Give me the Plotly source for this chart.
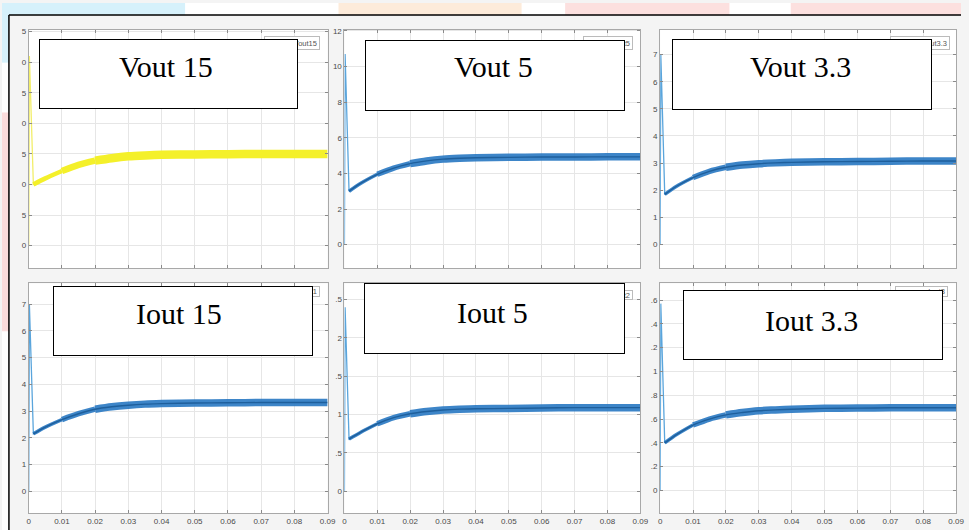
import plotly.graph_objects as go

# ---------------- data ----------------
t = [0, 0.0002, 0.0014, 0.005, 0.01, 0.015, 0.02, 0.025, 0.03, 0.035,
     0.04, 0.05, 0.06, 0.07, 0.08, 0.09]

vout15 = [0, 31.0, 10.0, 11.0, 12.2, 13.2, 13.9, 14.3, 14.6, 14.75,
          14.85, 14.9, 14.95, 15.0, 15.0, 15.0]
vout5 = [0, 10.7, 3.0, 3.45, 3.95, 4.3, 4.55, 4.7, 4.8, 4.85,
         4.88, 4.9, 4.92, 4.92, 4.93, 4.93]
vout33 = [0, 7.0, 1.85, 2.15, 2.47, 2.7, 2.85, 2.93, 2.98, 3.01,
          3.03, 3.05, 3.06, 3.07, 3.08, 3.08]
iout15 = [0, 7.0, 2.15, 2.4, 2.68, 2.9, 3.07, 3.16, 3.22, 3.26,
          3.28, 3.3, 3.31, 3.32, 3.32, 3.32]
iout5 = [0, 2.4, 0.68, 0.77, 0.88, 0.96, 1.01, 1.04, 1.06, 1.07,
         1.075, 1.08, 1.085, 1.09, 1.09, 1.09]
iout33 = [0, 1.57, 0.40, 0.47, 0.55, 0.60, 0.635, 0.655, 0.67, 0.677,
          0.683, 0.69, 0.692, 0.695, 0.695, 0.695]

titles = ["Vout 15", "Vout 5", "Vout 3.3", "Iout 15", "Iout 5", "Iout 3.3"]
legend_names = ["Vout15", "Vout5", "Vout3.3", "Iout1", "Iout2", "Iout3"]
series = [vout15, vout5, vout33, iout15, iout5, iout33]

x_tickvals = [0, 0.01, 0.02, 0.03, 0.04, 0.05, 0.06, 0.07, 0.08, 0.09]
x_ticktext = ["0", "0.01", "0.02", "0.03", "0.04", "0.05", "0.06", "0.07", "0.08", "0.09"]

y_tickvals = [
    [0, 5, 10, 15, 20, 25, 30, 35],
    [0, 2, 4, 6, 8, 10, 12],
    [0, 1, 2, 3, 4, 5, 6, 7],
    [0, 1, 2, 3, 4, 5, 6, 7],
    [0, 0.5, 1, 1.5, 2, 2.5],
    [0, 0.2, 0.4, 0.6, 0.8, 1, 1.2, 1.4, 1.6],
]
# tick labels as they are visible in the (cropped) picture
y_ticktext = [
    ["0", "5", "0", "5", "0", "5", "0", "5"],
    ["0", "2", "4", "6", "8", "10", "12"],
    ["0", "1", "2", "3", "4", "5", "6", "7"],
    ["0", "1", "2", "3", "4", "5", "6", "7"],
    ["0", ".5", "1", ".5", "2", ".5"],
    ["0", ".2", ".4", ".6", ".8", "1", ".2", ".4", ".6"],
]
y_ranges = [[-3.75, 35.3], [-1.34, 12.06], [-0.88, 7.91],
            [-0.82, 7.78], [-0.285, 2.71], [-0.19, 1.74]]

# ---------------- layout geometry (pixels) ----------------
W, H = 969, 530
def px(x):
    return x / W
def py(y):
    return 1 - y / H

cols = [(27, 329), (346, 645), (665, 964)]
rows = [(27, 267), (282, 513)]

title_boxes = [(37, 36, 296, 106), (367, 37, 627, 108), (677, 36, 937, 107),
               (52, 285, 312, 355), (366, 282, 627, 353), (688, 289, 948, 359)]
title_centers = [(166, 64), (497, 64), (807, 64), (179, 312), (496, 311), (818, 319)]
legend_boxes = [(265, 33, 321, 47), (587, 33, 637, 47), (897, 33, 957, 47),
                (265, 285, 321, 296), (587, 289, 637, 299), (902, 285, 955, 296)]

YELLOW = "#F4F02A"
YELLOW_THIN = "#F2EE6A"
BLUE = "rgba(40,120,194,0.9)"
BLUE_DARK = "#1E5F9C"
BLUE_THIN = "#5AA5DC"

fig = go.Figure()
layout = dict(
    width=W, height=H,
    margin=dict(l=0, r=0, t=0, b=0),
    paper_bgcolor="#F4F4F4",
    plot_bgcolor="white",
    showlegend=False,
    font=dict(family="Liberation Sans, Arial", size=8, color="#4A4A4A"),
)

i_a = t.index(0.01)
i_b = t.index(0.02)
for k in range(6):
    r, c = divmod(k, 3)
    ax = "" if k == 0 else str(k + 1)
    xa, ya = "x" + ax, "y" + ax
    vals = series[k]
    yellow = (k == 0)
    thin_c = YELLOW_THIN if yellow else BLUE_THIN
    band_c = YELLOW if yellow else BLUE
    # thin line: start-up spike
    fig.add_trace(go.Scatter(x=t[:4], y=vals[:4], mode="lines", xaxis=xa, yaxis=ya,
                             line=dict(color=thin_c, width=1.3), hoverinfo="skip"))
    # ripple band, growing thickness
    for (s, e, w) in [(2, i_a, 3.5), (i_a, i_b, 5.5), (i_b, len(t) - 1, 7.5)]:
        fig.add_trace(go.Scatter(x=t[s:e + 1], y=vals[s:e + 1], mode="lines",
                                 xaxis=xa, yaxis=ya,
                                 line=dict(color=band_c, width=w + (1 if yellow else 0),
                                           shape="spline", smoothing=0.8),
                                 hoverinfo="skip"))
    if not yellow:
        fig.add_trace(go.Scatter(x=t[2:], y=vals[2:], mode="lines",
                                 xaxis=xa, yaxis=ya,
                                 line=dict(color=BLUE_DARK, width=1.4,
                                           shape="spline", smoothing=0.8),
                                 hoverinfo="skip"))

    x0, x1 = cols[c]
    ytop, ybot = rows[r]
    common = dict(showline=True, linecolor="#A8A8A8", linewidth=1, mirror="ticks",
                  ticks="inside", ticklen=3, tickcolor="#8A8A8A",
                  showgrid=True, gridcolor="#E6E6E6", gridwidth=1,
                  zeroline=False, fixedrange=True)
    layout["xaxis" + ax] = dict(
        common, domain=[px(x0), px(x1)], anchor=ya, range=[0, 0.09],
        tickvals=x_tickvals, ticktext=x_ticktext,
        showticklabels=(r == 1), tickfont=dict(size=8, color="#4A4A4A"))
    layout["yaxis" + ax] = dict(
        common, domain=[py(ybot), py(ytop)], anchor=xa, range=y_ranges[k],
        tickvals=y_tickvals[k], ticktext=y_ticktext[k],
        tickfont=dict(size=8, color="#4A4A4A"))

# ---------------- background decorations & frame ----------------
shapes = []
def rect(x0, y0, x1, y1, fill, layer="below"):
    return dict(type="rect", xref="paper", yref="paper",
                x0=px(x0), x1=px(x1), y0=py(y1), y1=py(y0),
                fillcolor=fill, layer=layer, line=dict(width=0))

shapes.append(rect(0, 0, 969, 12, "white"))
shapes.append(rect(0, 0, 7, 530, "white"))
shapes.append(rect(0, 0, 185, 12, "#D6F1FB"))
shapes.append(rect(0, 12, 7, 60, "#D6F1FB"))
shapes.append(rect(340, 0, 525, 12, "#FDEBDA"))
shapes.append(rect(569, 0, 735, 12, "#FCE0DF"))
shapes.append(rect(797, 0, 969, 12, "#FCE0DF"))
shapes.append(rect(0, 110, 7, 330, "#FBDCDC"))
# frame lines
shapes.append(dict(type="line", xref="paper", yref="paper",
                   x0=px(7), x1=1, y0=py(12), y1=py(12),
                   line=dict(color="black", width=1.5)))
shapes.append(dict(type="line", xref="paper", yref="paper",
                   x0=px(7), x1=px(7), y0=py(12), y1=0,
                   line=dict(color="black", width=1.5)))

# ---------------- annotations: legends (partly covered) and title boxes ----------------
annotations = []
for k in range(6):
    lx0, ly0, lx1, ly1 = legend_boxes[k]
    annotations.append(dict(
        xref="paper", yref="paper", x=px(lx0), y=py(ly0),
        xanchor="left", yanchor="top", text=legend_names[k] + "&nbsp;",
        showarrow=False, align="right", valign="middle",
        width=lx1 - lx0 - 2, height=ly1 - ly0 - 2,
        bgcolor="white", bordercolor="#BBBBBB", borderwidth=1, borderpad=0,
        font=dict(size=7.5, color="#555555", family="Liberation Sans, Arial")))
for k in range(6):
    bx0, by0, bx1, by1 = title_boxes[k]
    annotations.append(dict(
        xref="paper", yref="paper", x=px(bx0), y=py(by0),
        xanchor="left", yanchor="top", text="&nbsp;",
        showarrow=False, width=bx1 - bx0 - 2, height=by1 - by0 - 2,
        bgcolor="white", bordercolor="black", borderwidth=1, borderpad=0))
    cx, cy = title_centers[k]
    annotations.append(dict(
        xref="paper", yref="paper", x=px(cx), y=py(cy),
        xanchor="center", yanchor="middle", text=titles[k], showarrow=False,
        font=dict(size=30, color="black",
                  family="Liberation Serif, Times New Roman, serif")))

layout["shapes"] = shapes
layout["annotations"] = annotations
fig.update_layout(**layout)

fig.write_html("out.html",
               config={"displayModeBar": False},
               post_script="document.body.style.margin='0px';document.body.style.padding='0px';")
